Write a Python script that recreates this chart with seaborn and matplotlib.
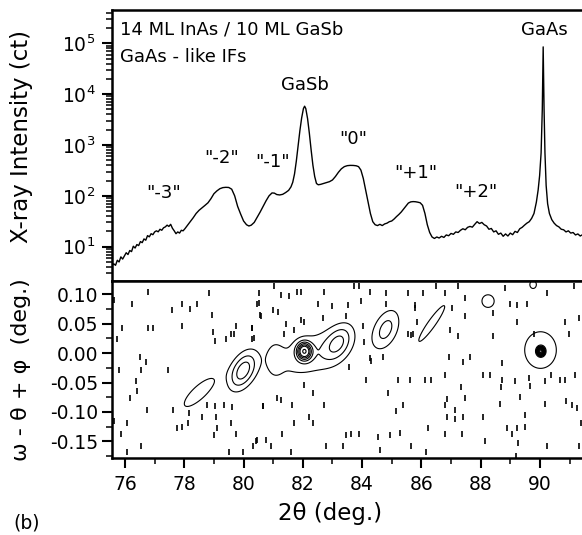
import numpy as np
import pandas as pd
import matplotlib
matplotlib.use("Agg")
import matplotlib.pyplot as plt
import seaborn as sns
from matplotlib.ticker import LogLocator, MultipleLocator, NullFormatter, FormatStrFormatter

# ---------------- data: 2theta scan (top panel) ----------------
two_theta = [75.56, 75.62, 75.68, 75.74, 75.80, 75.86, 75.92, 75.98, 76.04, 76.10,
             76.16, 76.22, 76.28, 76.34, 76.40, 76.46, 76.52, 76.58, 76.64, 76.70,
             76.76, 76.82, 76.88, 76.94, 77.00, 77.06, 77.12, 77.18, 77.24, 77.30,
             77.36, 77.42, 77.48, 77.54, 77.60, 77.66, 77.72, 77.78, 77.84, 77.90,
             77.96, 78.02, 78.10, 78.20, 78.30, 78.40, 78.50, 78.60, 78.70, 78.80,
             78.90, 79.00, 79.10, 79.20, 79.30, 79.40, 79.50, 79.60, 79.70, 79.80,
             79.90, 80.00, 80.10, 80.18, 80.26, 80.36, 80.46, 80.56, 80.66, 80.76,
             80.86, 80.96, 81.04, 81.12, 81.22, 81.32, 81.42, 81.52, 81.60, 81.66,
             81.72, 81.78, 81.84, 81.90, 81.96, 82.02, 82.06, 82.10, 82.16, 82.22,
             82.28, 82.34, 82.40, 82.46, 82.52, 82.60, 82.70, 82.80, 82.90, 83.00,
             83.10, 83.20, 83.30, 83.40, 83.50, 83.60, 83.70, 83.80, 83.88, 83.96,
             84.04, 84.12, 84.20, 84.28, 84.36, 84.44, 84.52, 84.60, 84.68, 84.76,
             84.84, 84.92, 85.00, 85.08, 85.16, 85.24, 85.32, 85.40, 85.48, 85.56,
             85.64, 85.72, 85.80, 85.88, 85.96, 86.04, 86.12, 86.20, 86.28, 86.36,
             86.44, 86.52, 86.60, 86.68, 86.76, 86.84, 86.92, 87.00, 87.08, 87.16,
             87.24, 87.32, 87.40, 87.48, 87.56, 87.64, 87.72, 87.80, 87.88, 87.96,
             88.04, 88.12, 88.20, 88.28, 88.36, 88.44, 88.52, 88.60, 88.68, 88.76,
             88.84, 88.92, 89.00, 89.08, 89.16, 89.24, 89.32, 89.40, 89.48, 89.56,
             89.64, 89.72, 89.80, 89.88, 89.94, 89.99, 90.04, 90.08, 90.11, 90.14,
             90.17, 90.21, 90.26, 90.32, 90.40, 90.48, 90.56, 90.64, 90.72, 90.80,
             90.88, 90.96, 91.04, 91.12, 91.20, 91.28, 91.36, 91.42]
counts = [4.2, 4.6, 4.3, 5.4, 5.0, 6.3, 5.7, 6.6, 7.6, 7.0,
          8.4, 8.0, 10.2, 9.4, 11.0, 10.5, 12.6, 12.0, 14.2, 13.4,
          16.5, 15.6, 18.0, 17.2, 19.5, 20.5, 19.6, 22.0, 21.0, 23.5,
          24.5, 26.5, 25.0, 27.5, 23.0, 20.5, 18.0, 19.5, 18.5, 21.0,
          20.5, 22.5, 26.0, 31.0, 37.0, 45.0, 52.0, 58.0, 65.0, 73.0,
          88.0, 110, 125, 138, 145, 147, 146, 135, 100, 62,
          44, 32, 27, 25.5, 26.5, 30, 38, 48, 62, 80,
          100, 114, 113, 106, 104, 107, 116, 128, 150, 185,
          270, 480, 950, 1900, 3400, 5200, 5800, 5200, 3300, 1700,
          800, 400, 240, 175, 165, 168, 175, 182, 190, 205,
          240, 290, 340, 375, 392, 397, 396, 390, 375, 320,
          220, 130, 75, 45, 31, 27, 26, 27.5, 26, 28,
          29, 31, 32, 35, 39, 43, 48, 55, 63, 72,
          76, 77, 76.5, 75, 73, 65, 45, 27, 19, 15.5,
          14.5, 15.5, 14.8, 16.0, 15.2, 17.0, 16.4, 18.2, 17.5, 19.5,
          19.0, 21.0, 22.5, 21.5, 24.0, 25.0, 24.2, 27.5, 31.0, 28.5,
          30.0, 27.0, 25.5, 22.0, 22.8, 19.5, 20.5, 17.5, 18.5, 16.0,
          17.8, 16.2, 18.5, 17.2, 20.0, 19.0, 22.5, 24.0, 26.5, 29.0,
          31.0, 36.0, 45.0, 75.0, 130, 250, 700, 5000, 85000, 5000,
          700, 160, 70, 45, 34, 29, 26, 24.5, 22, 21.5,
          19.5, 20.5, 18.5, 19.0, 17.0, 17.8, 16.2, 17.0]

# ---------------- data: reciprocal-space map (bottom panel) ----------------
# intensity maxima of the map: position, height (contour units), widths, tilt
spot_names = ['"-3"', '"-2"', 'diffuse', '"-1"', 'GaSb', '"0"', '"+1"', '"+2"',
              'spot 88', 'spot 90', 'GaAs diffuse', 'GaAs']
spot_theta = [78.50, 79.98, 82.25, 81.05, 82.05, 83.20, 84.80, 86.35, 88.25, 89.77, 90.02, 90.03]
spot_omega = [-0.067, -0.030, -0.002, -0.010, 0.003, 0.018, 0.040, 0.050, 0.088, 0.116, 0.005, 0.003]
spot_height = [1.8, 3.6, 1.7, 1.2, 6.8, 2.6, 2.4, 1.6, 1.4, 1.3, 1.6, 40.0]
spot_width_theta = [0.46, 0.33, 0.90, 0.20, 0.16, 0.33, 0.33, 0.45, 0.25, 0.15, 0.55, 0.06]
spot_width_omega = [0.013, 0.020, 0.028, 0.020, 0.0095, 0.019, 0.022, 0.011, 0.013, 0.009, 0.032, 0.0035]
spot_tilt = [0.038, 0.03, 0.012, 0.0, 0.0, 0.025, 0.03, 0.065, 0.0, 0.0, 0.0, 0.0]
contour_levels = [1, 2, 3, 4, 5, 6, 8, 11, 15, 20, 27, 35]

# isolated noise counts in the map
speck_theta = [76.79, 78.82, 80.52, 75.64, 76.23, 77.92, 78.43, 80.46, 77.58, 78.20,
               80.58, 78.92, 75.91, 76.79, 76.96, 77.92, 79.73, 80.29, 78.96, 79.56,
               79.67, 75.72, 79.03, 79.41, 80.29, 76.51, 76.70, 75.81, 76.54, 77.45,
               76.36, 76.40, 76.17, 76.75, 77.62, 78.15, 78.60, 78.77, 79.05, 79.33,
               79.07, 80.66, 75.64, 76.06, 77.75, 77.92, 78.12, 79.11, 79.56, 75.86,
               78.99, 79.73, 80.32, 80.46, 76.54, 76.06, 79.50, 79.99, 79.62,
               81.03, 81.82, 81.93, 82.72, 83.74, 83.91, 84.25, 84.81, 85.55, 80.52,
               81.28, 81.54, 82.50, 83.00, 83.51, 83.97, 84.81, 85.80, 80.55, 81.01,
               81.16, 81.42, 81.93, 82.05, 82.67, 83.46, 80.35, 81.37, 81.71, 84.02,
               85.55, 85.66, 80.29, 84.08, 84.25, 84.30, 84.70, 83.57, 82.33, 82.72,
               81.63, 80.67, 81.14, 81.28, 84.14, 84.87, 85.21, 85.60, 85.38, 85.15,
               82.21, 82.33, 81.71, 81.31, 83.46, 83.63, 83.91, 84.53, 84.93, 85.27,
               80.41, 80.75, 80.92, 82.78, 83.34, 84.59, 81.59, 85.66, 82.05,
               86.51, 87.24, 86.06, 86.79, 87.47, 88.83, 90.24, 91.14, 85.80, 85.86,
               87.02, 87.47, 88.43, 89.00, 89.22, 89.56, 85.72, 86.96, 87.24, 88.43,
               89.22, 89.79, 90.86, 91.31, 90.97, 86.93, 87.41, 87.64, 88.71, 86.11,
               86.34, 86.79, 88.09, 88.32, 88.71, 89.16, 89.62, 89.67, 90.18, 90.38,
               90.69, 90.86, 91.20, 87.33, 88.69, 86.88, 87.47, 89.33, 88.65, 90.18,
               90.88, 91.08, 91.25, 86.79, 87.13, 86.85, 87.15, 87.41, 88.09, 89.50,
               86.23, 86.79, 87.36, 88.88, 89.05, 89.22, 89.50, 88.15, 89.25, 90.24,
               91.31, 86.17, 89.19, 91.37]
speck_omega = [0.104, 0.102, 0.102, 0.090, 0.083, 0.083, 0.083, 0.083, 0.073, 0.074,
               0.062, 0.064, 0.042, 0.042, 0.042, 0.046, 0.045, 0.042, 0.035, 0.033,
               0.033, 0.023, 0.021, 0.023, 0.023, -0.007, -0.016, -0.028, -0.028, -0.028,
               -0.047, -0.065, -0.077, -0.096, -0.096, -0.102, -0.108, -0.088, -0.090, -0.088,
               -0.109, -0.090, -0.116, -0.118, -0.127, -0.126, -0.118, -0.127, -0.118, -0.137,
               -0.139, -0.137, -0.157, -0.148, -0.157, -0.168, -0.168, -0.168, -0.091,
               0.114, 0.104, 0.104, 0.104, 0.114, 0.114, 0.104, 0.102, 0.101, 0.084,
               0.098, 0.096, 0.083, 0.079, 0.081, 0.089, 0.083, 0.076, 0.064, 0.073,
               0.070, 0.050, 0.056, 0.053, 0.059, 0.062, 0.025, 0.033, 0.039, 0.045,
               0.033, 0.031, 0.042, 0.019, -0.009, -0.014, -0.006, -0.023, -0.068, -0.088,
               -0.088, -0.090, -0.077, -0.079, -0.046, -0.068, -0.046, -0.046, -0.088, -0.099,
               -0.108, -0.118, -0.118, -0.137, -0.139, -0.137, -0.137, -0.142, -0.139, -0.136,
               -0.150, -0.148, -0.157, -0.157, -0.157, -0.164, -0.167, -0.158, -0.054,
               0.114, 0.114, 0.102, 0.102, 0.093, 0.111, 0.102, 0.114, 0.081, 0.053,
               0.076, 0.062, 0.067, 0.083, 0.081, 0.083, 0.033, 0.039, 0.028, 0.028,
               0.053, 0.033, 0.053, 0.059, 0.033, -0.006, -0.016, -0.007, -0.017, -0.046,
               -0.046, -0.037, -0.037, -0.037, -0.046, -0.048, -0.043, -0.056, -0.048, -0.037,
               -0.046, -0.046, -0.037, -0.057, -0.057, -0.078, -0.077, -0.074, -0.086, -0.086,
               -0.082, -0.088, -0.094, -0.088, -0.096, -0.108, -0.112, -0.108, -0.108, -0.105,
               -0.127, -0.137, -0.137, -0.127, -0.137, -0.127, -0.125, -0.150, -0.153, -0.157,
               -0.158, -0.168, -0.174, -0.119]

# tick values
log_ticks = [1e1, 1e2, 1e3, 1e4, 1e5]
theta_ticks = [76, 78, 80, 82, 84, 86, 88, 90]
omega_ticks = [-0.15, -0.10, -0.05, 0.00, 0.05, 0.10]

# ---------------- figure ----------------
sns.set_theme(style="ticks")
plt.rcParams["font.family"] = ["DejaVu Sans"]
plt.rcParams.update({
    "axes.unicode_minus": False,
    "axes.linewidth": 1.8,
    "axes.edgecolor": "black",
    "axes.labelcolor": "black",
    "text.color": "black",
    "xtick.color": "black",
    "ytick.color": "black",
})

fig = plt.figure(figsize=(5.82, 5.35), dpi=100)
ax1 = fig.add_axes([0.1924, 0.4748, 0.8076, 0.5065])
ax2 = fig.add_axes([0.1924, 0.1439, 0.8076, 0.3308])

xlim = (75.56, 91.42)

# top: scan
scan = pd.DataFrame({"two_theta": two_theta, "counts": counts})
sns.lineplot(data=scan, x="two_theta", y="counts", ax=ax1, color="black",
             linewidth=1.0, estimator=None, sort=False)
ax1.set_yscale("log")
ax1.set_xlim(*xlim)
ax1.set_ylim(10 ** 0.325, 10 ** 5.655)
ax1.set_yticks(log_ticks)
ax1.yaxis.set_minor_locator(LogLocator(base=10, subs=np.arange(2, 10)))
ax1.yaxis.set_minor_formatter(NullFormatter())
ax1.tick_params(axis="x", which="both", bottom=False, labelbottom=False)
ax1.tick_params(axis="y", which="major", direction="out", length=7, width=1.5,
                pad=5, labelsize=13.5)
ax1.tick_params(axis="y", which="minor", direction="out", length=4, width=1.1)
ax1.spines["right"].set_visible(False)
ax1.set_xlabel("")
ax1.set_ylabel("X-ray Intensity (ct)", fontsize=16.5, va="center")
ax1.yaxis.set_label_coords(-0.192, 0.533)

ax1.text(0.017, 0.928, "14 ML InAs / 10 ML GaSb", transform=ax1.transAxes,
         fontsize=13, ha="left", va="center")
ax1.text(0.017, 0.828, "GaAs - like IFs", transform=ax1.transAxes,
         fontsize=13, ha="left", va="center")
peak_text = [('"-3"', 77.29, 112), ('"-2"', 79.26, 550), ('"-1"', 80.99, 468),
             ("GaSb", 82.06, 15100), ('"0"', 83.69, 1290), ('"+1"', 85.82, 275),
             ('"+2"', 87.84, 120), ("GaAs", 90.16, 182000)]
for txt, xx, yy in peak_text:
    ax1.text(xx, yy, txt, fontsize=13, ha="center", va="center")

# bottom: map
TH, OM = np.meshgrid(np.linspace(75.5, 91.5, 1601), np.linspace(-0.185, 0.13, 316))
Z = np.zeros_like(TH)
for tc, oc, a, sx, sy, k in zip(spot_theta, spot_omega, spot_height,
                                spot_width_theta, spot_width_omega, spot_tilt):
    dx = TH - tc
    dy = OM - oc - k * dx
    Z += a * np.exp(-0.5 * ((dx / sx) ** 2 + (dy / sy) ** 2))
ax2.contour(TH, OM, Z, levels=contour_levels, colors="black", linewidths=0.8)
sns.scatterplot(x=speck_theta, y=speck_omega, ax=ax2, marker="|", s=16,
                color="black", linewidth=1.2, legend=False)

ax2.set_xlim(*xlim)
ax2.set_ylim(-0.178, 0.122)
ax2.set_xticks(theta_ticks)
ax2.xaxis.set_minor_locator(MultipleLocator(1))
ax2.set_yticks(omega_ticks)
ax2.yaxis.set_major_formatter(FormatStrFormatter("%.2f"))
ax2.yaxis.set_minor_locator(MultipleLocator(0.025))
ax2.tick_params(axis="both", which="major", direction="out", length=7, width=1.5,
                labelsize=13.5)
ax2.tick_params(axis="x", which="major", pad=5)
ax2.tick_params(axis="y", which="major", pad=3)
ax2.tick_params(axis="both", which="minor", direction="out", length=4, width=1.1)
ax2.spines["right"].set_visible(False)
ax2.set_xlabel("2θ (deg.)", fontsize=16.5, va="center")
ax2.xaxis.set_label_coords(0.464, -0.311)
ax2.set_ylabel("ω - θ + φ  (deg.)", fontsize=16, va="center")
ax2.yaxis.set_label_coords(-0.194, 0.497)

fig.text(26.7 / 582, 1 - 523 / 535, "(b)", fontsize=13.5, ha="center", va="center")

fig.savefig("out.png", dpi=100)
